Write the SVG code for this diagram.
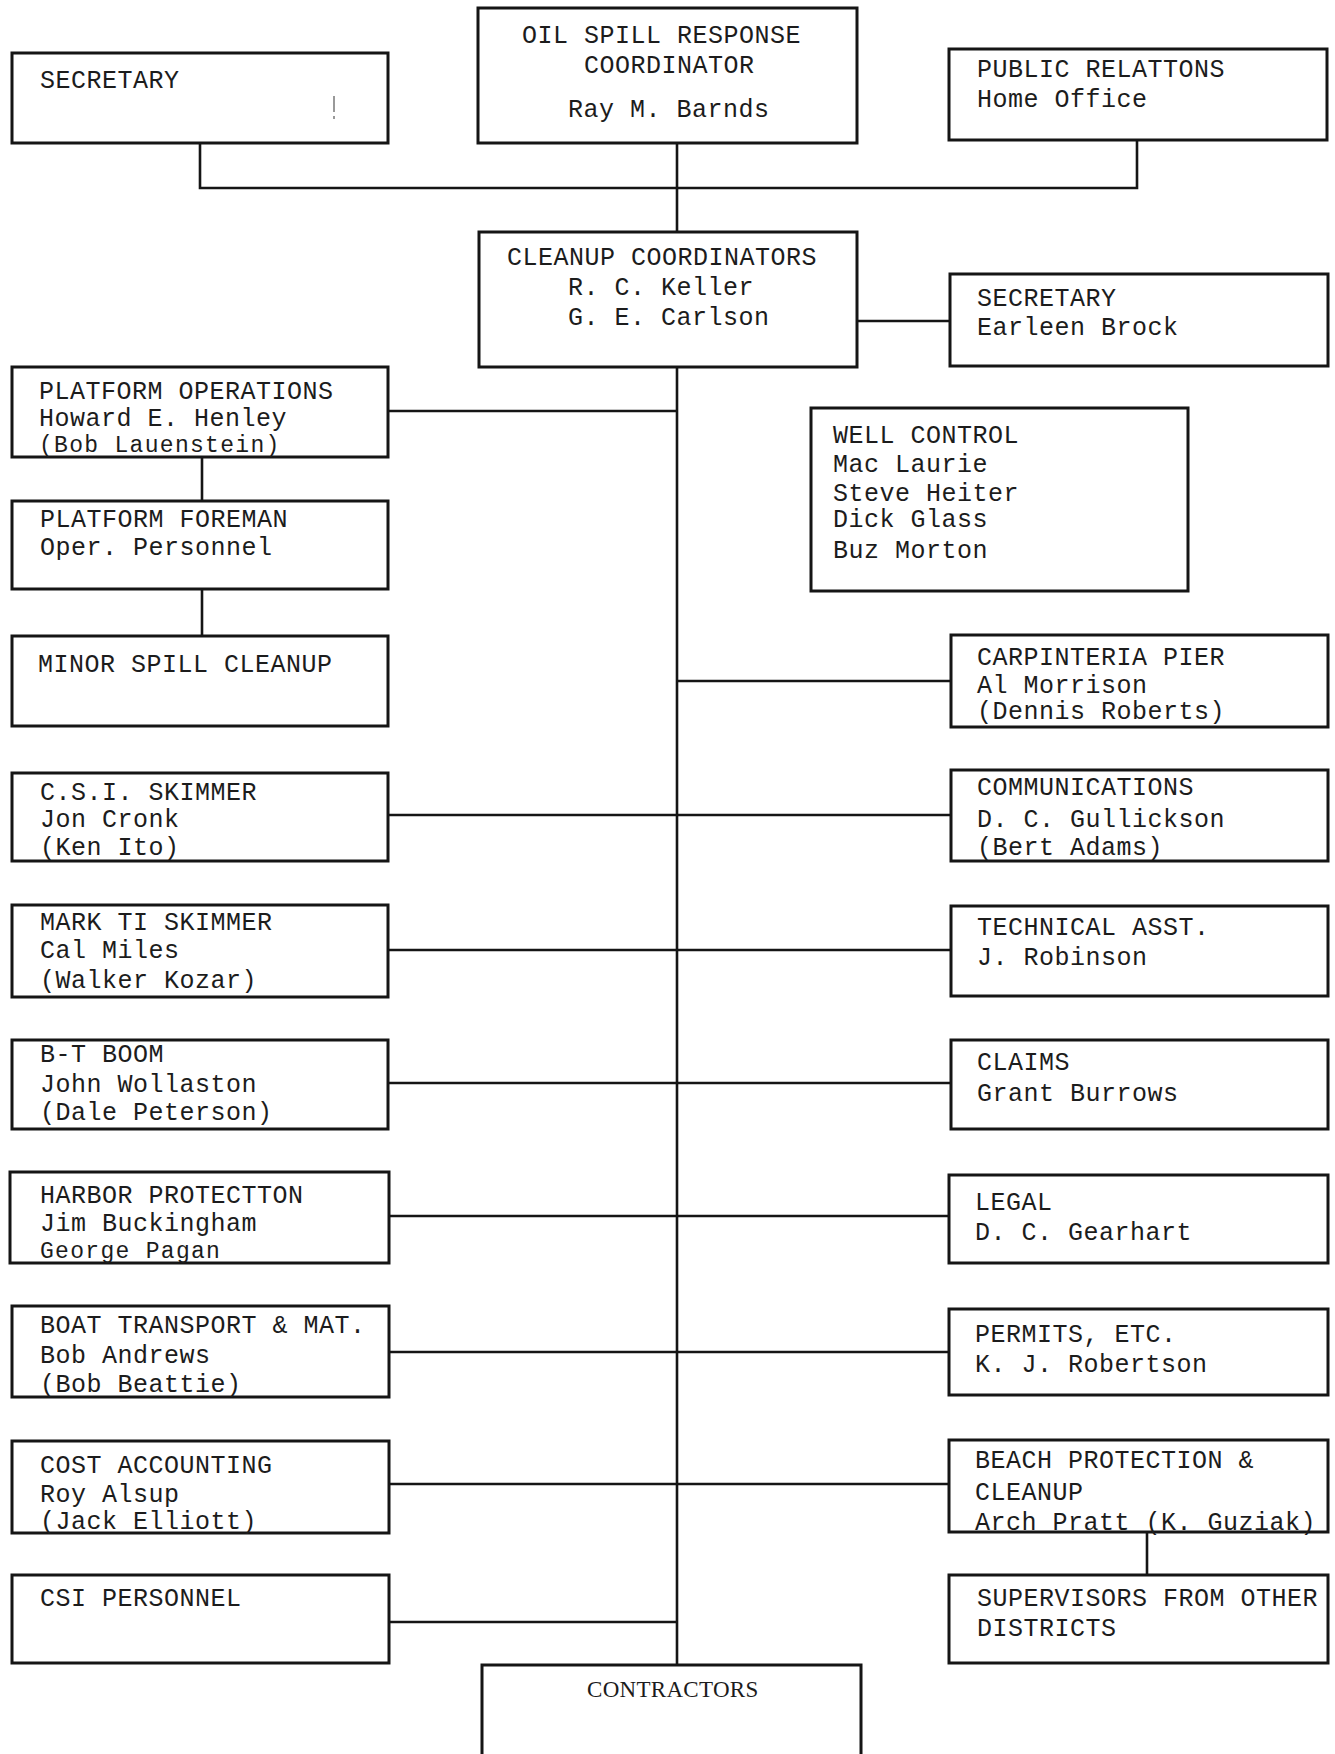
<svg xmlns="http://www.w3.org/2000/svg" width="1335" height="1754" viewBox="0 0 1335 1754">
<style>
.b{fill:#fff;stroke:#151515;stroke-width:3}
.c{fill:none;stroke:#151515;stroke-width:2.6}
text{font-family:"Liberation Mono","DejaVu Sans Mono",monospace;font-size:25px;letter-spacing:0.5px;fill:#1c1c1c}
.t{font-size:23px;letter-spacing:1.3px}
.s{font-family:"Liberation Serif","DejaVu Serif",serif;font-size:23px;letter-spacing:0.3px}
</style>
<rect width="1335" height="1754" fill="#fff"/>
<g id="connectors">
<path class="c" d="M200 143V188H1137V140"/>
<path class="c" d="M677 143V232"/>
<path class="c" d="M857 321H950"/>
<path class="c" d="M677 367V1665"/>
<path class="c" d="M388 411H677"/>
<path class="c" d="M202 457V501"/>
<path class="c" d="M202 589V636"/>
<path class="c" d="M677 681H951"/>
<path class="c" d="M388 815H951"/>
<path class="c" d="M388 950H951"/>
<path class="c" d="M388 1083H951"/>
<path class="c" d="M389 1216H949"/>
<path class="c" d="M389 1352H949"/>
<path class="c" d="M389 1484H949"/>
<path class="c" d="M389 1622H677"/>
<path class="c" d="M1147 1532V1575"/>
</g>
<g id="secretary1"><rect class="b" x="12" y="53" width="376" height="90"/><text x="40" y="88">SECRETARY</text><line x1="334" y1="96" x2="334" y2="112" stroke="#555" stroke-width="1.2"/><line x1="334" y1="116" x2="334" y2="119" stroke="#555" stroke-width="1.2"/></g>
<g id="oil-spill-coordinator"><rect class="b" x="478" y="8" width="379" height="135"/><text x="522" y="43">OIL SPILL RESPONSE</text><text x="584" y="73">COORDINATOR</text><text x="568" y="117">Ray M. Barnds</text></g>
<g id="public-relations"><rect class="b" x="949" y="49" width="378" height="91"/><text x="977" y="77">PUBLIC RELATTONS</text><text x="977" y="107">Home Office</text></g>
<g id="cleanup-coordinators"><rect class="b" x="479" y="232" width="378" height="135"/><text x="507" y="265">CLEANUP COORDINATORS</text><text x="568" y="295">R. C. Keller</text><text x="568" y="325">G. E. Carlson</text></g>
<g id="secretary2"><rect class="b" x="950" y="274" width="378" height="92"/><text x="977" y="306">SECRETARY</text><text x="977" y="335">Earleen Brock</text></g>
<g id="platform-operations"><rect class="b" x="12" y="367" width="376" height="90"/><text x="39" y="399">PLATFORM OPERATIONS</text><text x="39" y="426">Howard E. Henley</text><text class="t" x="39" y="452">(Bob Lauenstein)</text></g>
<g id="well-control"><rect class="b" x="811" y="408" width="377" height="183"/><text x="833" y="443">WELL CONTROL</text><text x="833" y="472">Mac Laurie</text><text x="833" y="501">Steve Heiter</text><text x="833" y="527">Dick Glass</text><text x="833" y="558">Buz Morton</text></g>
<g id="platform-foreman"><rect class="b" x="12" y="501" width="376" height="88"/><text x="40" y="527">PLATFORM FOREMAN</text><text x="40" y="555">Oper. Personnel</text></g>
<g id="minor-spill"><rect class="b" x="12" y="636" width="376" height="90"/><text x="38" y="672">MINOR SPILL CLEANUP</text></g>
<g id="carpinteria-pier"><rect class="b" x="951" y="635" width="377" height="92"/><text x="977" y="665">CARPINTERIA PIER</text><text x="977" y="693">Al Morrison</text><text x="977" y="719">(Dennis Roberts)</text></g>
<g id="csi-skimmer"><rect class="b" x="12" y="773" width="376" height="88"/><text x="40" y="800">C.S.I. SKIMMER</text><text x="40" y="827">Jon Cronk</text><text x="40" y="855">(Ken Ito)</text></g>
<g id="communications"><rect class="b" x="951" y="770" width="377" height="91"/><text x="977" y="795">COMMUNICATIONS</text><text x="977" y="827">D. C. Gullickson</text><text x="977" y="855">(Bert Adams)</text></g>
<g id="mark-skimmer"><rect class="b" x="12" y="905" width="376" height="92"/><text x="40" y="930">MARK TI SKIMMER</text><text x="40" y="958">Cal Miles</text><text x="40" y="988">(Walker Kozar)</text></g>
<g id="technical-asst"><rect class="b" x="951" y="906" width="377" height="90"/><text x="977" y="935">TECHNICAL ASST.</text><text x="977" y="965">J. Robinson</text></g>
<g id="bt-boom"><rect class="b" x="12" y="1040" width="376" height="89"/><text x="40" y="1062">B-T BOOM</text><text x="40" y="1092">John Wollaston</text><text x="40" y="1120">(Dale Peterson)</text></g>
<g id="claims"><rect class="b" x="951" y="1040" width="377" height="89"/><text x="977" y="1070">CLAIMS</text><text x="977" y="1101">Grant Burrows</text></g>
<g id="harbor-protection"><rect class="b" x="10" y="1172" width="379" height="91"/><text x="40" y="1203">HARBOR PROTECTTON</text><text x="40" y="1231">Jim Buckingham</text><text class="t" x="40" y="1258">George Pagan</text></g>
<g id="legal"><rect class="b" x="949" y="1175" width="379" height="88"/><text x="975" y="1210">LEGAL</text><text x="975" y="1240">D. C. Gearhart</text></g>
<g id="boat-transport"><rect class="b" x="12" y="1306" width="377" height="91"/><text x="40" y="1333">BOAT TRANSPORT &amp; MAT.</text><text x="40" y="1363">Bob Andrews</text><text x="40" y="1392">(Bob Beattie)</text></g>
<g id="permits"><rect class="b" x="949" y="1309" width="379" height="86"/><text x="975" y="1342">PERMITS, ETC.</text><text x="975" y="1372">K. J. Robertson</text></g>
<g id="cost-accounting"><rect class="b" x="12" y="1441" width="377" height="92"/><text x="40" y="1473">COST ACCOUNTING</text><text x="40" y="1502">Roy Alsup</text><text x="40" y="1529">(Jack Elliott)</text></g>
<g id="beach-protection"><rect class="b" x="949" y="1440" width="379" height="92"/><text x="975" y="1468">BEACH PROTECTION &amp;</text><text x="975" y="1500">CLEANUP</text><text x="975" y="1530">Arch Pratt (K. Guziak)</text></g>
<g id="csi-personnel"><rect class="b" x="12" y="1575" width="377" height="88"/><text x="40" y="1606">CSI PERSONNEL</text></g>
<g id="supervisors"><rect class="b" x="949" y="1575" width="379" height="88"/><text x="977" y="1606">SUPERVISORS FROM OTHER</text><text x="977" y="1636">DISTRICTS</text></g>
<g id="contractors"><rect class="b" x="482" y="1665" width="379" height="120"/><text class="s" x="587" y="1697">CONTRACTORS</text></g>
</svg>
